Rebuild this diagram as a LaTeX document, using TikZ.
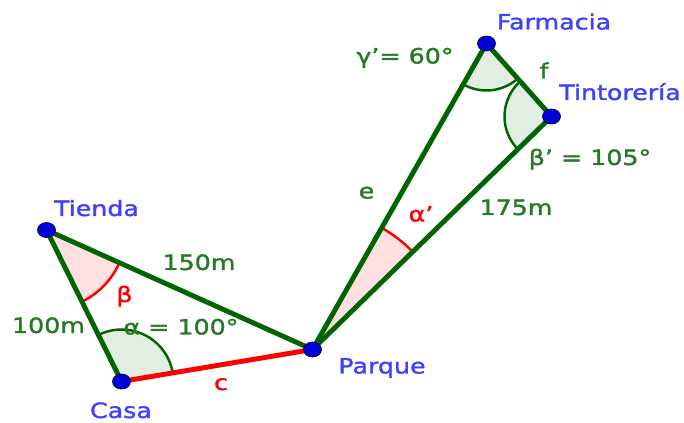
\documentclass[tikz,border=0pt]{standalone}
\usepackage{fontspec}
\setsansfont{DejaVu Sans}[FakeStretch=1.2, FakeBold=1.5]
\usetikzlibrary{angles,shapes.geometric}

\definecolor{ggreen}{RGB}{0,100,0}
\definecolor{gtext}{RGB}{40,120,40}
\definecolor{gblue}{RGB}{64,64,255}
\definecolor{gred}{RGB}{255,0,0}

\begin{document}
\begin{tikzpicture}[
  every node/.style={font=\sffamily\fontsize{12}{14}\selectfont, anchor=base},
  pt/.style={draw=blue!30!black, fill=blue!85!black, ellipse, minimum width=3.6mm, minimum height=3mm, inner sep=0pt, anchor=center},
  seg/.style={line width=2.8pt, ggreen},
  ang/.style={draw, line width=1.4pt},
]
\useasboundingbox (0, 0) rectangle (13.68, 8.46);
\coordinate (Tienda) at (0.93, 3.86);
\coordinate (Casa) at (2.43, 0.83);
\coordinate (Parque) at (6.25, 1.47);
\coordinate (Farmacia) at (9.73, 7.59);
\coordinate (Tintoreria) at (11.03, 6.13);

% angulos
\pic[ang, ggreen, fill=ggreen!11, angle radius=1.04cm] {angle = Parque--Casa--Tienda};
\pic[ang, gred, fill=red!12, angle radius=1.6cm] {angle = Casa--Tienda--Parque};
\pic[ang, gred, fill=red!12, angle radius=2.8cm] {angle = Tintoreria--Parque--Farmacia};
\pic[ang, ggreen, fill=ggreen!11, angle radius=0.94cm] {angle = Parque--Farmacia--Tintoreria};
\pic[ang, ggreen, fill=ggreen!11, angle radius=0.94cm] {angle = Farmacia--Tintoreria--Parque};

% lados
\draw[seg] (Tienda) -- (Casa);
\draw[seg] (Tienda) -- (Parque);
\draw[seg, gred] (Casa) -- (Parque);
\draw[seg] (Parque) -- (Farmacia);
\draw[seg] (Farmacia) -- (Tintoreria);
\draw[seg] (Tintoreria) -- (Parque);

\node[pt] (T) at (Tienda) {};
\node[pt] (C) at (Casa) {};
\node[pt] (P) at (Parque) {};
\node[pt] (F) at (Farmacia) {};
\node[pt] (Ti) at (Tintoreria) {};

% etiquetas
\node[text=gblue] (lT) at (1.93, 4.14) {Tienda};
\node[text=gblue] (lC) at (2.42, 0.10) {Casa};
\node[text=gblue] (lP) at (7.64, 0.99) {Parque};
\node[text=gblue] (lF) at (11.08, 7.87) {Farmacia};
\node[text=gblue] (lTi) at (12.40, 6.46) {Tintorería};

\node[text=gtext] (l150) at (3.98, 3.06) {150m};
\node[text=gtext] (l100) at (0.97, 1.80) {100m};
\node[text=gtext] (lal) at (3.62, 1.77) {α = 100°};
\node[text=gred] (lbe) at (2.49, 2.42) {β};
\node[text=gred] (lc) at (4.42, 0.66) {c};
\node[text=gtext] (le) at (7.33, 4.49) {e};
\node[text=gred] (lal2) at (8.42, 4.03) {α’};
\node[text=gtext] (l175) at (10.32, 4.16) {175m};
\node[text=gtext] (lbe2) at (11.80, 5.16) {β’ = 105°};
\node[text=gtext] (lga) at (8.10, 7.19) {γ’= 60°};
\node[text=gtext] (lf) at (10.88, 6.89) {f};
\end{tikzpicture}
\end{document}
